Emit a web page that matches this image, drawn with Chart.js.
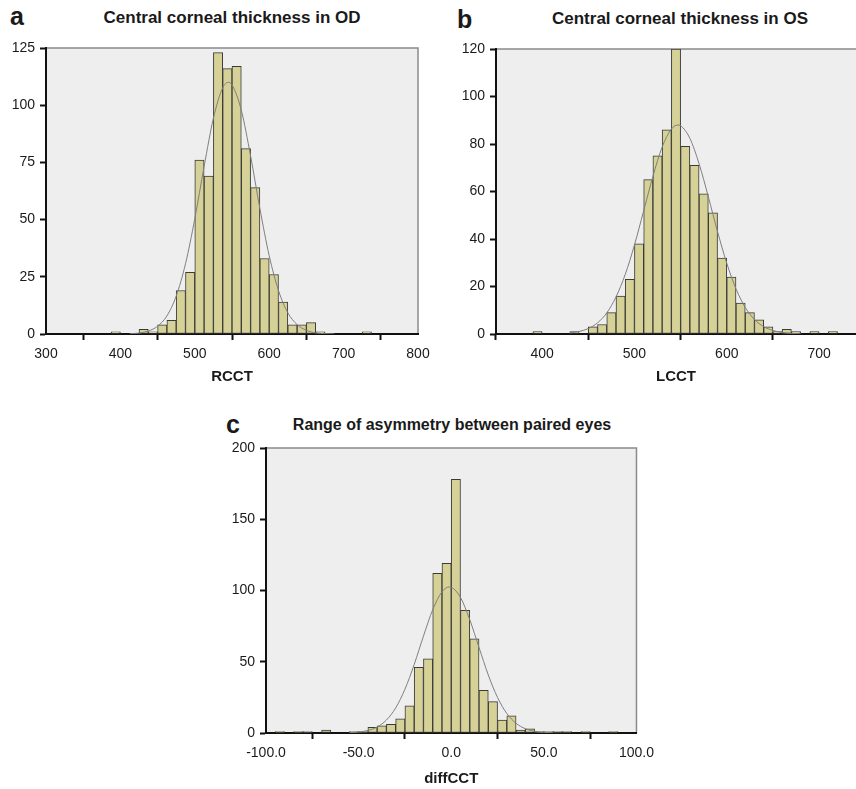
<!DOCTYPE html>
<html>
<head>
<meta charset="utf-8">
<script src="https://cdn.jsdelivr.net/npm/chart.js@4.4.1/dist/chart.umd.min.js"></script>
<style>
  body { margin: 0; background: #fff; width: 856px; height: 789px; position: relative; overflow: hidden;
         font-family: "Liberation Sans", Arial, sans-serif; color: #1a1a1a; }
  canvas { position: absolute; }
  .letter { position: absolute; font-weight: bold; font-size: 25px; line-height: 1; }
  .title { position: absolute; font-weight: bold; white-space: nowrap; transform: translateX(-50%); line-height: 1; }
</style>
</head>
<body>
<div class="letter" style="left:10px;top:4px">a</div>
<div class="title" style="left:232px;top:9px;font-size:17px">Central corneal thickness in OD</div>
<div class="letter" style="left:457px;top:7px">b</div>
<div class="title" style="left:680px;top:10px;font-size:17px">Central corneal thickness in OS</div>
<div class="letter" style="left:226px;top:412px">c</div>
<div class="title" style="left:452px;top:417px;font-size:16px">Range of asymmetry between paired eyes</div>

<canvas id="chartA" width="450" height="390" style="left:0;top:0"></canvas>
<canvas id="chartB" width="426" height="390" style="left:430px;top:0"></canvas>
<canvas id="chartC" width="460" height="394" style="left:200px;top:395px"></canvas>

<script>
// --- a: RCCT, bins of 12.5 (bin centres) ---
const RCCT_MID = [393.75, 406.25, 418.75, 431.25, 443.75, 456.25, 468.75, 481.25, 493.75, 506.25,
  518.75, 531.25, 543.75, 556.25, 568.75, 581.25, 593.75, 606.25, 618.75, 631.25,
  643.75, 656.25, 668.75, 681.25, 693.75, 706.25, 718.75, 731.25];
const RCCT_N = [1, 0, 0, 2, 1, 4, 6, 19, 27, 76,
  69, 123, 116, 117, 81, 64, 33, 26, 14, 4,
  4, 5, 1, 0, 0, 0, 0, 1];
const RCCT_CURVE_X = [412.5, 425, 437.5, 450, 462.5, 475, 487.5, 500, 512.5, 525, 537.5, 545, 550,
  562.5, 575, 587.5, 600, 612.5, 625, 637.5, 650, 662.5, 675, 687.5];
const RCCT_CURVE_Y = [0.1, 0.4, 1.3, 3.4, 7.9, 16.6, 30.7, 50.4, 73.2, 94.3, 107.6, 110, 108.9,
  97.8, 77.8, 54.8, 34.2, 19.0, 9.3, 4.1, 1.6, 0.5, 0.15, 0.05];
const RCCT_XTICKS = [300, 400, 500, 600, 700, 800];
const RCCT_YTICKS = [0, 25, 50, 75, 100, 125];

// --- b: LCCT, bins of 10 ---
const LCCT_MID = [395, 405, 415, 425, 435, 445, 455, 465, 475, 485, 495, 505, 515, 525, 535, 545,
  555, 565, 575, 585, 595, 605, 615, 625, 635, 645, 655, 665, 675, 685, 695, 705, 715];
const LCCT_N = [1, 0, 0, 0, 1, 0, 3, 4, 9, 16, 23, 38, 65, 75, 86, 120,
  79, 71, 59, 51, 32, 24, 13, 9, 6, 3, 1, 2, 1, 0, 1, 0, 1];
const LCCT_CURVE_X = [430, 440, 450, 460, 470, 480, 490, 500, 510, 520, 530, 540, 547, 550,
  560, 570, 580, 590, 600, 610, 620, 630, 640, 650, 660, 670, 680];
const LCCT_CURVE_Y = [0.45, 1.06, 2.3, 4.7, 8.9, 15.6, 25.1, 37.5, 51.9, 66.4, 78.7, 86.3, 88, 87.7,
  82.4, 71.7, 57.8, 43.1, 29.8, 19.0, 11.2, 6.1, 3.1, 1.5, 0.6, 0.25, 0.1];
const LCCT_XTICKS = [400, 500, 600, 700];
const LCCT_YTICKS = [0, 20, 40, 60, 80, 100, 120];

// --- c: diffCCT, bins of 5 ---
const DIFF_MID = [-92.5, -87.5, -82.5, -77.5, -72.5, -67.5, -62.5, -57.5, -52.5, -47.5,
  -42.5, -37.5, -32.5, -27.5, -22.5, -17.5, -12.5, -7.5, -2.5, 2.5,
  7.5, 12.5, 17.5, 22.5, 27.5, 32.5, 37.5, 42.5, 47.5, 52.5,
  57.5, 62.5, 67.5, 72.5, 77.5, 82.5, 87.5];
const DIFF_N = [1, 0, 1, 1, 0, 2, 0, 0, 1, 1,
  4, 5, 6, 10, 19, 46, 52, 112, 119, 178,
  86, 66, 30, 22, 9, 12, 2, 3, 1, 1,
  1, 1, 0, 1, 0, 0, 1];
const DIFF_CURVE_X = [-55, -50, -45, -40, -35, -30, -25, -20, -15, -10, -5, -1, 0,
  5, 10, 15, 20, 25, 30, 35, 40, 45, 50, 55];
const DIFF_CURVE_Y = [0.2, 0.67, 1.77, 4.2, 9.1, 17.6, 30.7, 48.1, 68.0, 86.5, 99.1, 102.5, 102.3,
  95.1, 79.5, 60.0, 40.7, 24.9, 13.7, 6.8, 3.0, 1.2, 0.44, 0.15];
const DIFF_XTICKS = [-100, -50, 0, 50, 100];
const DIFF_YTICKS = [0, 50, 100, 150, 200];

Chart.defaults.font.family = '"Liberation Sans", Arial, sans-serif';
Chart.defaults.color = '#1a1a1a';

// grey plot background + thin grey frame on top / right
const plotFrame = {
  id: 'plotFrame',
  beforeDraw(chart, args, opts) {
    const { ctx, chartArea: a } = chart;
    ctx.save();
    ctx.fillStyle = '#eeeeee';
    ctx.fillRect(a.left, a.top, a.right - a.left, a.bottom - a.top);
    ctx.strokeStyle = '#8a8a8a';
    ctx.lineWidth = 1.5;
    ctx.beginPath();
    ctx.moveTo(a.left, a.top);
    ctx.lineTo(a.right, a.top);
    if (opts.right) ctx.lineTo(a.right, a.bottom);
    ctx.stroke();
    ctx.restore();
  }
};

function histogram(id, o) {
  const axisLine = { display: true, color: '#111', width: 2 };
  const tickGrid = { display: true, drawOnChartArea: false, drawTicks: true, tickLength: 6, tickWidth: 2, tickColor: '#111' };
  return new Chart(document.getElementById(id), {
    type: 'bar',
    data: {
      datasets: [
        {
          type: 'bar',
          data: o.mid.map((x, i) => ({ x: x, y: o.n[i] })),
          backgroundColor: 'rgb(214, 209, 150)',
          borderColor: '#3a3a3a',
          borderWidth: 1,
          borderSkipped: false,
          barPercentage: 1,
          categoryPercentage: 1,
          order: 2
        },
        {
          type: 'line',
          data: o.cx.map((x, i) => ({ x: x, y: o.cy[i] })),
          borderColor: '#7f7f7f',
          borderWidth: 1,
          pointRadius: 0,
          cubicInterpolationMode: 'monotone',
          fill: false,
          order: 1
        }
      ]
    },
    options: {
      responsive: false,
      animation: false,
      layout: { padding: o.pad },
      plugins: {
        legend: { display: false },
        tooltip: { enabled: false },
        plotFrame: { right: o.rightEdge }
      },
      scales: {
        x: {
          type: 'linear',
          offset: false,
          min: o.xmin,
          max: o.xmax,
          border: axisLine,
          grid: tickGrid,
          afterBuildTicks: s => { s.ticks = o.xticks.map(v => ({ value: v })); },
          afterFit: s => { s.height = 56; },
          ticks: {
            padding: 6,
            maxRotation: 0,
            autoSkip: false,
            font: { size: 14 },
            callback: o.xfmt || (v => String(v))
          },
          title: {
            display: true,
            text: o.xtitle,
            font: { size: 15, weight: 'bold' },
            padding: { top: 0, bottom: o.titlePad }
          }
        },
        y: {
          min: 0,
          max: o.ymax,
          border: axisLine,
          grid: tickGrid,
          afterBuildTicks: s => { s.ticks = o.yticks.map(v => ({ value: v })); },
          afterFit: s => { s.width = o.yw; },
          ticks: { padding: 5, font: { size: 14 } }
        }
      }
    },
    plugins: [plotFrame]
  });
}

histogram('chartA', {
  mid: RCCT_MID, n: RCCT_N, cx: RCCT_CURVE_X, cy: RCCT_CURVE_Y,
  xticks: RCCT_XTICKS, yticks: RCCT_YTICKS,
  xmin: 300, xmax: 800, ymax: 125, xtitle: 'RCCT',
  pad: { left: 0, right: 32, top: 48, bottom: 0 }, yw: 46, titlePad: 4, rightEdge: true
});

histogram('chartB', {
  mid: LCCT_MID, n: LCCT_N, cx: LCCT_CURVE_X, cy: LCCT_CURVE_Y,
  xticks: LCCT_XTICKS, yticks: LCCT_YTICKS,
  xmin: 350, xmax: 740, ymax: 120, xtitle: 'LCCT',
  pad: { left: 0, right: 0, top: 49, bottom: 0 }, yw: 66, titlePad: 4, rightEdge: false
});

histogram('chartC', {
  mid: DIFF_MID, n: DIFF_N, cx: DIFF_CURVE_X, cy: DIFF_CURVE_Y,
  xticks: DIFF_XTICKS, yticks: DIFF_YTICKS,
  xmin: -100, xmax: 100, ymax: 200, xtitle: 'diffCCT',
  xfmt: v => v.toFixed(1),
  pad: { left: 0, right: 23, top: 53, bottom: 0 }, yw: 66, titlePad: 1, rightEdge: true
});
</script>
</body>
</html>
